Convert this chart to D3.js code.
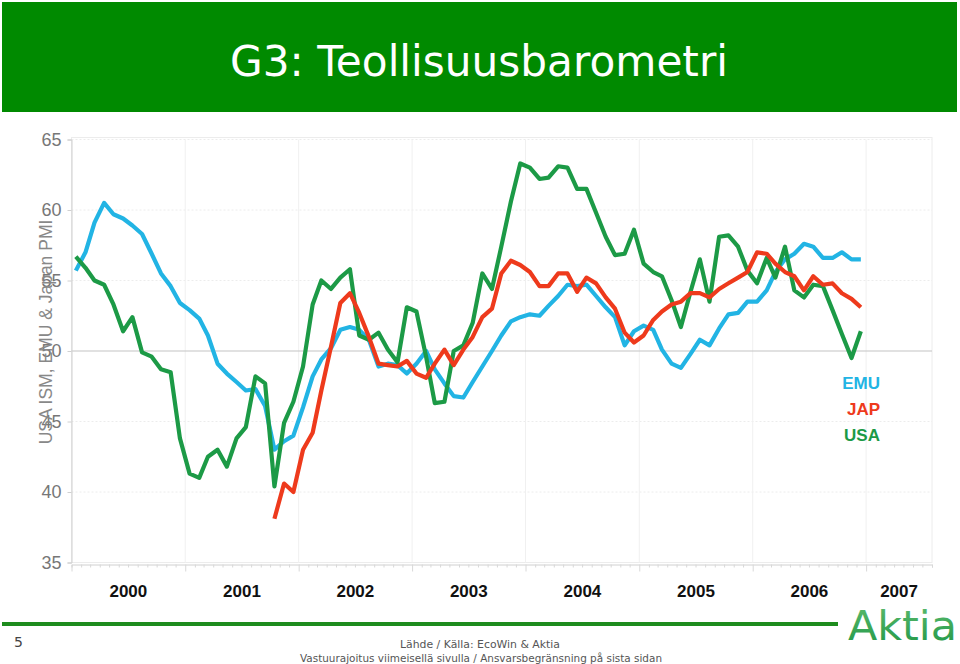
<!DOCTYPE html>
<html><head><meta charset="utf-8">
<script src="https://cdn.jsdelivr.net/npm/d3@7"></script>
<style>html,body{margin:0;padding:0;background:#fff;}svg{display:block;}</style>
</head><body>
<script>
const title = "G3: Teollisuusbarometri";
const yAxisTitle = "USA ISM, EMU & Japan PMI";
const yTicks = [35, 40, 45, 50, 55, 60, 65];
const yearLabels = ["2000","2001","2002","2003","2004","2005","2006","2007"];
const firstMonth = "2000-01";
const japFirstMonth = "2001-10";
const seriesNames = ["EMU", "JAP", "USA"];
const seriesColors = ["#22B4E4", "#EE3A1C", "#1C9A46"];

const emu = [55.7,57.0,59.1,60.5,59.7,59.4,58.9,58.3,56.9,55.5,54.6,53.4,
 52.9,52.3,51.1,49.1,48.4,47.8,47.2,47.3,46.1,43.0,43.6,44.0,
 46.0,48.2,49.4,50.2,51.5,51.7,51.5,50.8,48.9,49.1,49.0,48.4,
 49.1,50.0,48.7,47.7,46.8,46.7,47.8,48.9,50.0,51.1,52.1,52.4,
 52.6,52.5,53.2,53.9,54.7,54.6,54.7,53.9,53.1,52.4,50.4,51.4,
 51.8,51.5,50.1,49.1,48.8,49.8,50.8,50.4,51.6,52.6,52.7,53.5,
 53.5,54.3,55.6,56.5,56.9,57.6,57.4,56.6,56.6,57.0,56.5,56.5];
const usa = [56.7,55.9,55.0,54.7,53.3,51.4,52.4,49.9,49.6,48.7,48.5,43.8,
 41.3,41.0,42.5,43.0,41.8,43.8,44.6,48.2,47.7,40.4,44.9,46.4,
 48.9,53.3,55.0,54.4,55.2,55.8,51.1,50.8,51.3,50.1,49.2,53.1,
 52.8,49.6,46.3,46.4,50.0,50.4,52.0,55.5,54.4,57.4,60.6,63.3,
 63.0,62.2,62.3,63.1,63.0,61.5,61.5,59.8,58.1,56.8,56.9,58.6,
 56.2,55.6,55.3,53.6,51.7,54.2,56.5,53.5,58.1,58.2,57.4,55.7,
 54.8,56.6,55.2,57.4,54.3,53.8,54.7,54.6,52.9,51.2,49.5,51.4];
const jap = [38.1,40.6,40.0,
 43.0,44.2,47.2,50.3,53.4,54.1,52.7,51.0,49.1,49.0,48.9,49.3,
 48.4,48.1,49.1,50.1,49.0,50.1,51.0,52.4,53.0,55.5,56.4,56.1,
 55.6,54.6,54.6,55.5,55.5,54.2,55.2,54.8,53.8,53.0,51.3,50.6,
 51.1,52.2,52.8,53.3,53.5,54.1,54.1,53.8,54.4,54.8,55.2,55.6,
 57.0,56.9,56.2,55.6,55.3,54.3,55.3,54.7,54.8,54.1,53.7,53.1];

const W = 960, H = 664;
const svg = d3.select("body").append("svg").attr("width", W).attr("height", H);
const parseM = d3.timeParse("%Y-%m");
const mid = d => d3.timeDay.offset(d, 14);

function toPoints(values, start) {
  const s = parseM(start);
  return values.map((v, i) => ({ date: mid(d3.timeMonth.offset(s, i)), value: v }));
}
const data = [toPoints(emu, firstMonth), toPoints(jap, japFirstMonth), toPoints(usa, firstMonth)];

// header
svg.append("rect").attr("x", 2).attr("y", 2).attr("width", 955).attr("height", 110).attr("fill", "#008A00");
svg.append("text").attr("x", 479).attr("y", 76).attr("text-anchor", "middle")
  .attr("font-family", "DejaVu Sans").attr("font-size", 42).attr("fill", "#fff")
  .attr("textLength", 498).attr("lengthAdjust", "spacingAndGlyphs").text(title);

const pL = 71.5, pR = 932, pT = 139.5, pB = 562.5;
const x = d3.scaleTime().domain([new Date(2000, 0, 1), new Date(2007, 7, 1)]).range([pL, pR]);
const y = d3.scaleLinear().domain([35, 65]).range([pB, pT]);

// plot frame & grid
svg.append("rect").attr("x", pL).attr("y", pT - 2).attr("width", pR - pL).attr("height", pB - pT + 2)
  .attr("fill", "none").attr("stroke", "#ececec");
svg.append("g").selectAll("line").data(yTicks.filter(t => t !== 35 && t !== 50)).join("line")
  .attr("x1", pL).attr("x2", pR).attr("y1", d => y(d)).attr("y2", d => y(d))
  .attr("stroke", "#ececec").attr("stroke-dasharray", "2,2");
const yearStarts = d3.timeYear.range(new Date(2001, 0, 1), new Date(2007, 1, 1));
svg.append("g").selectAll("line").data(yearStarts).join("line")
  .attr("x1", d => x(d)).attr("x2", d => x(d)).attr("y1", pT).attr("y2", pB)
  .attr("stroke", "#f0f0f0");
svg.append("line").attr("x1", pL).attr("x2", pR).attr("y1", y(50)).attr("y2", y(50))
  .attr("stroke", "#c4c4c4").attr("stroke-width", 1.2);

// y axis
const yAxis = svg.append("g").attr("transform", `translate(${pL},0)`)
  .call(d3.axisLeft(y).tickValues(yTicks).tickSize(4).tickPadding(6));
yAxis.select(".domain").attr("stroke", "#d0d0d0");
yAxis.selectAll(".tick line").attr("stroke", "#d0d0d0");
yAxis.selectAll("text").attr("font-family", "Liberation Sans, Arial").attr("font-size", 18).attr("fill", "#777");

// x axis
const xAxisY = pB + 2;
const xAxis = svg.append("g").attr("transform", `translate(0,${xAxisY})`)
  .call(d3.axisBottom(x).ticks(d3.timeMonth.every(1)).tickSize(3).tickFormat(""));
xAxis.select(".domain").attr("stroke", "#d0d0d0");
xAxis.selectAll(".tick line").attr("stroke", "#d8d8d8")
  .attr("y2", d => d.getMonth() === 0 ? 7 : 3);
svg.append("g").selectAll("text").data(yearLabels).join("text")
  .attr("x", d => {
    const s = new Date(+d, 0, 1);
    const e = d3.min([new Date(+d + 1, 0, 1), x.domain()[1]]);
    return (x(s) + x(e)) / 2;
  })
  .attr("y", 597).attr("text-anchor", "middle")
  .attr("font-family", "Liberation Sans, Arial").attr("font-weight", "bold").attr("font-size", 17)
  .attr("fill", "#111").text(d => d);

// y axis title
svg.append("text").attr("transform", "translate(52,332) rotate(-90)").attr("text-anchor", "middle")
  .attr("font-family", "Liberation Sans, Arial").attr("font-size", 17.5).attr("fill", "#888")
  .text(yAxisTitle);

// lines
const line = d3.line().x(d => x(d.date)).y(d => y(d.value));
const order = [0, 2, 1];
svg.append("g").selectAll("path").data(order).join("path")
  .attr("d", i => line(data[i])).attr("fill", "none")
  .attr("stroke", i => seriesColors[i]).attr("stroke-width", 4.2)
  .attr("stroke-linejoin", "round");

// legend
svg.append("g").selectAll("text").data(seriesNames).join("text")
  .attr("x", 880).attr("y", (d, i) => 389 + i * 26).attr("text-anchor", "end")
  .attr("font-family", "Liberation Sans, Arial").attr("font-weight", "bold").attr("font-size", 17)
  .attr("fill", (d, i) => seriesColors[i]).text(d => d);

// footer
svg.append("line").attr("x1", 2).attr("x2", 838).attr("y1", 624).attr("y2", 624)
  .attr("stroke", "#1E8C1E").attr("stroke-width", 4);
svg.append("text").attr("x", 14).attr("y", 647).attr("font-family", "DejaVu Sans")
  .attr("font-size", 14).attr("fill", "#444").text("5");
svg.append("text").attr("x", 480).attr("y", 648).attr("text-anchor", "middle").attr("font-family", "DejaVu Sans")
  .attr("font-size", 11).attr("fill", "#555").attr("textLength", 160).attr("lengthAdjust", "spacingAndGlyphs")
  .text("Lähde / Källa: EcoWin & Aktia");
svg.append("text").attr("x", 481).attr("y", 662).attr("text-anchor", "middle").attr("font-family", "DejaVu Sans")
  .attr("font-size", 11).attr("fill", "#555").attr("textLength", 362).attr("lengthAdjust", "spacingAndGlyphs")
  .text("Vastuurajoitus viimeisellä sivulla / Ansvarsbegränsning på sista sidan");

// logo
const defs = svg.append("defs");
const grad = defs.append("linearGradient").attr("id", "lg").attr("x1", 0).attr("x2", 0).attr("y1", 0).attr("y2", 1);
grad.append("stop").attr("offset", "0%").attr("stop-color", "#5DBB6E");
grad.append("stop").attr("offset", "100%").attr("stop-color", "#1E9645");
svg.append("text").attr("x", 848).attr("y", 640).attr("font-family", "DejaVu Sans Condensed, DejaVu Sans")
  .attr("font-size", 41).attr("fill", "url(#lg)").attr("textLength", 109).attr("lengthAdjust", "spacingAndGlyphs")
  .text("Aktia");
</script>
</body></html>
